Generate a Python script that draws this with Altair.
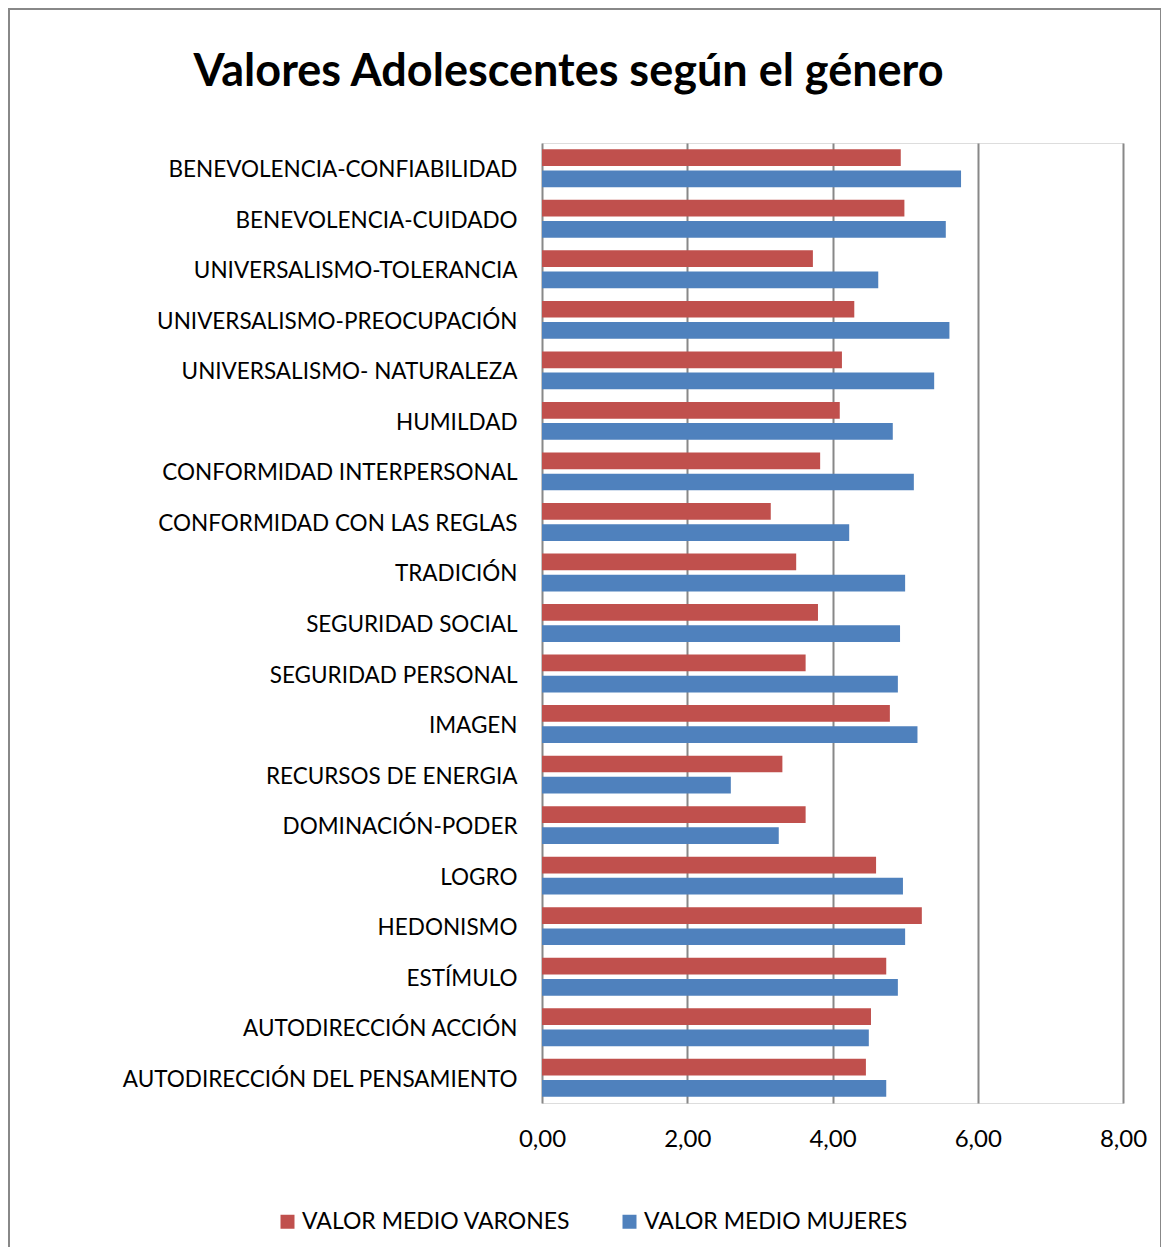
import altair as alt
import pandas as pd

categorias = [
    "BENEVOLENCIA-CONFIABILIDAD",
    "BENEVOLENCIA-CUIDADO",
    "UNIVERSALISMO-TOLERANCIA",
    "UNIVERSALISMO-PREOCUPACIÓN",
    "UNIVERSALISMO- NATURALEZA ",
    "HUMILDAD",
    "CONFORMIDAD INTERPERSONAL",
    "CONFORMIDAD CON LAS REGLAS",
    "TRADICIÓN",
    "SEGURIDAD SOCIAL",
    "SEGURIDAD PERSONAL",
    "IMAGEN",
    "RECURSOS DE ENERGIA",
    "DOMINACIÓN-PODER",
    "LOGRO",
    "HEDONISMO",
    "ESTÍMULO",
    "AUTODIRECCIÓN ACCIÓN",
    "AUTODIRECCIÓN DEL PENSAMIENTO",
]
varones = [4.94, 4.99, 3.73, 4.30, 4.13, 4.10, 3.83, 3.15, 3.50, 3.80,
           3.63, 4.79, 3.31, 3.63, 4.60, 5.23, 4.74, 4.53, 4.46]
mujeres = [5.77, 5.56, 4.63, 5.61, 5.40, 4.83, 5.12, 4.23, 5.00, 4.93,
           4.90, 5.17, 2.60, 3.26, 4.97, 5.00, 4.90, 4.50, 4.74]
series = ["VALOR MEDIO VARONES", "VALOR MEDIO MUJERES"]
colores = ["#C0504D", "#4F81BD"]
ticks_x = [0, 2, 4, 6, 8]

rows = []
for c, v, m in zip(categorias, varones, mujeres):
    rows.append({"categoria": c, "serie": series[0], "valor": v})
    rows.append({"categoria": c, "serie": series[1], "valor": m})
df = pd.DataFrame(rows)

FONT = "Lato"

bars = alt.Chart(df).mark_bar().encode(
    y=alt.Y("categoria:N", sort=categorias,
            scale=alt.Scale(paddingInner=0.25, paddingOuter=0.125),
            axis=alt.Axis(title=None, domain=False, ticks=False, labelPadding=25,
                          labelOffset=2,
                          labelFontSize=22.5, labelColor="#000000", labelFont=FONT,
                          labelLimit=520)),
    yOffset=alt.YOffset("serie:N", sort=series, scale=alt.Scale(paddingInner=0.21)),
    x=alt.X("valor:Q", scale=alt.Scale(domain=[0, 8], nice=False),
            axis=alt.Axis(title=None, values=ticks_x, domain=False, ticks=False,
                          labelExpr="replace(format(datum.value, '.2f'), '.', ',')",
                          labelFontSize=24, labelFont=FONT, labelColor="#000000",
                          labelPadding=24, labelFlush=False, grid=True,
                          gridColor="#888888", gridWidth=2)),
    color=alt.Color("serie:N", sort=series,
                    scale=alt.Scale(domain=series, range=colores),
                    legend=alt.Legend(title=None, orient="none", direction="horizontal",
                                      legendX=-266, legendY=1067,
                                      symbolType="square", symbolSize=196,
                                      symbolStrokeWidth=0, labelFontSize=23,
                                      labelFont=FONT, labelColor="#000000",
                                      labelOffset=3, columnPadding=47,
                                      labelLimit=400)),
)

border = alt.Chart(alt.Data(values=[{}])).mark_rect(
    fill=None, stroke="#888888", strokeWidth=2, clip=False
).encode(
    x=alt.value(-533), x2=alt.value(619), y=alt.value(-134), y2=alt.value(1125)
)

chart = alt.layer(bars, border).properties(
    width=581,
    height=960,
    padding={"left": 534, "top": 135, "right": 38, "bottom": 144},
    autosize=alt.AutoSizeParams(type="none"),
    title=alt.TitleParams(
        "Valores Adolescentes según el género",
        font=FONT, fontSize=45, fontWeight="bold", color="#000000",
        anchor="middle", frame="group", dx=-264, offset=-123, baseline="alphabetic",
    ),
).configure_view(stroke=None).configure(background="#ffffff")

chart.save("out.html", embed_options={"renderer": "svg", "actions": False})
